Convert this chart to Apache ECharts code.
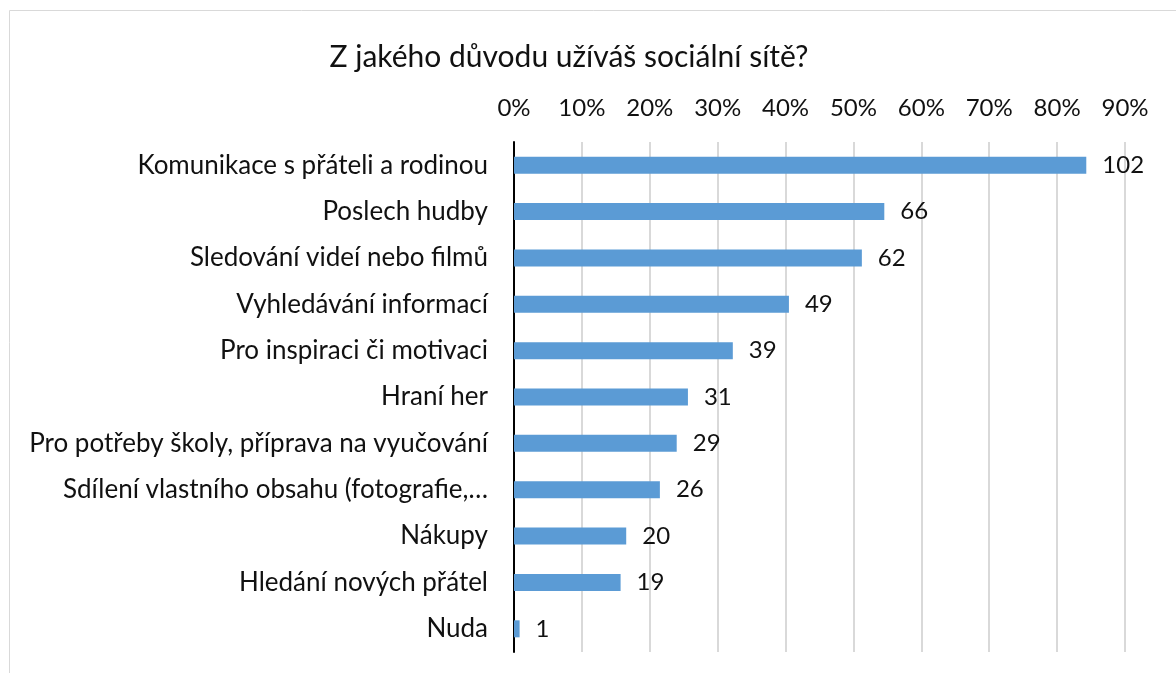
<!DOCTYPE html>
<html>
<head>
<meta charset="utf-8">
<script src="https://cdn.jsdelivr.net/npm/echarts@6/dist/echarts.min.js"></script>
<style>
  html, body { margin: 0; padding: 0; background: #fff; }
  #chart { width: 1176px; height: 673px; }
</style>
</head>
<body>
<div id="chart"></div>
<script>
const titleText = 'Z jakého důvodu užíváš sociální sítě?'
const categories = [
  'Komunikace s přáteli a rodinou',
  'Poslech hudby',
  'Sledování videí nebo filmů',
  'Vyhledávání informací',
  'Pro inspiraci či motivaci',
  'Hraní her',
  'Pro potřeby školy, příprava na vyučování',
  'Sdílení vlastního obsahu (fotografie,…',
  'Nákupy',
  'Hledání nových přátel',
  'Nuda'
]
const counts = [102, 66, 62, 49, 39, 31, 29, 26, 20, 19, 1]
// number of respondents, bars show share of them
const respondents = 121

const font = 'Lato, "Open Sans", sans-serif'
const chart = echarts.init(document.getElementById('chart'))

const option = {
  animation: false,
  textStyle: { fontFamily: font },
  title: {
    text: titleText,
    left: 564,
    top: 37,
    textAlign: 'center',
    textStyle: { fontFamily: font, fontSize: 30, fontWeight: 'normal', color: '#111' }
  },
  graphic: [{
    type: 'rect',
    shape: { x: 9.5, y: 10.5, width: 1180, height: 680 },
    style: { fill: 'none', stroke: '#d9d9d9', lineWidth: 1 },
    silent: true
  }],
  grid: { left: 514, right: 51, top: 142, bottom: 21 },
  xAxis: {
    type: 'value',
    position: 'top',
    min: 0,
    max: 90,
    interval: 10,
    axisLine: { show: false },
    axisTick: { show: false },
    axisLabel: {
      margin: 22,
      fontFamily: font,
      fontSize: 24,
      color: '#111',
      formatter: v => v + '%'
    },
    splitLine: { lineStyle: { color: '#d9d9d9', width: 2 } }
  },
  yAxis: {
    type: 'category',
    inverse: true,
    data: categories,
    axisLine: { show: true, lineStyle: { color: '#000', width: 2 } },
    axisTick: { show: false },
    axisLabel: { margin: 26, fontFamily: font, fontSize: 26, color: '#111' }
  },
  series: [{
    type: 'bar',
    data: counts.map(c => c / respondents * 100),
    barWidth: 17,
    itemStyle: { color: '#5b9bd5' },
    label: {
      show: true,
      position: 'right',
      distance: 16,
      fontFamily: font,
      fontSize: 24,
      color: '#111',
      formatter: p => counts[p.dataIndex]
    }
  }]
}

chart.setOption(option)
window.addEventListener('resize', () => chart.resize())
</script>
</body>
</html>
